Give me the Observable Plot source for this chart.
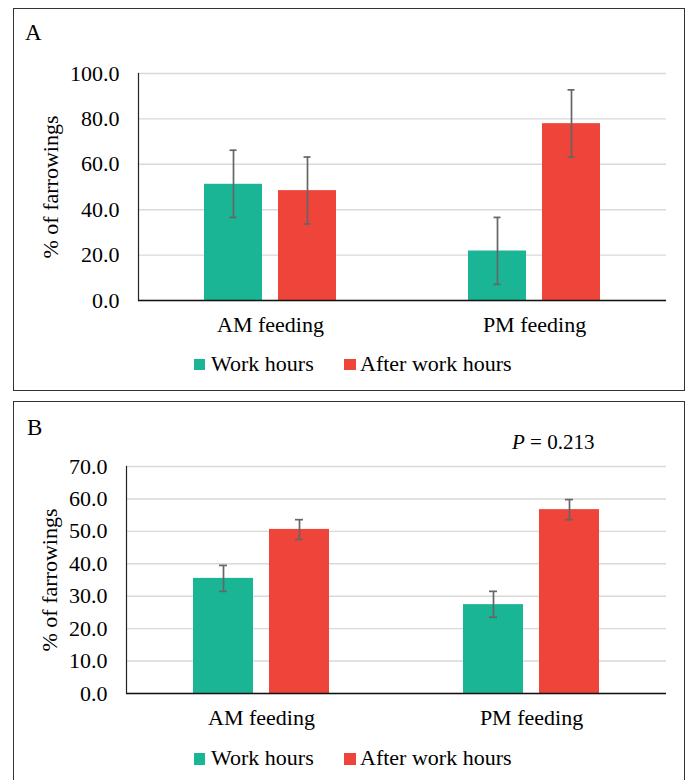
<!DOCTYPE html>
<html>
<head>
<meta charset="utf-8">
<script src="https://cdn.jsdelivr.net/npm/d3@7"></script>
<script src="https://cdn.jsdelivr.net/npm/@observablehq/plot@0.6"></script>
<style>
  html, body { margin: 0; padding: 0; background: #fff; }
  #page { position: relative; width: 686px; height: 780px; overflow: hidden; font-family: "Liberation Serif", "Times New Roman", serif; color: #000; }
  .box { position: absolute; box-sizing: border-box; border: 1.6px solid #333; }
  .lbl { position: absolute; line-height: 1; white-space: nowrap; }
  .sw { position: absolute; width: 11.5px; height: 11.5px; }
  svg.plot-svg { position: absolute; left: 0; }
</style>
</head>
<body>
<div id="page">
  <div class="box" style="left:13px; top:8px; width:672px; height:383px;"></div>
  <div class="box" style="left:13px; top:401px; width:672px; height:420px;"></div>
  <div class="lbl" style="left:25px; top:21px; font-size:23px;">A</div>
  <div class="lbl" style="left:27px; top:416px; font-size:23px;">B</div>
  <div class="lbl" style="left:512px; top:432px; font-size:21px;"><i>P</i> = 0.213</div>
</div>
<script>
// ---- data ----
const categories = ["AM feeding", "PM feeding"];
const series = ["Work hours", "After work hours"];
const colors = ["#1ab594", "#ee4439"];

// Panel A
const aWork = [51.2, 21.8];
const aWorkLow = [36.6, 7.1];
const aWorkHigh = [66.2, 36.6];
const aAfter = [48.4, 77.9];
const aAfterLow = [33.7, 63.2];
const aAfterHigh = [63.2, 92.8];
const yTicksA = [0, 20, 40, 60, 80, 100];

// Panel B
const bWork = [35.5, 27.4];
const bWorkLow = [31.5, 23.5];
const bWorkHigh = [39.5, 31.5];
const bAfter = [50.6, 56.7];
const bAfterLow = [47.5, 53.6];
const bAfterHigh = [53.6, 59.8];
const yTicksB = [0, 10, 20, 30, 40, 50, 60, 70];

const yTitle = "% of farrowings";

function rowsFrom(work, workLow, workHigh, after, afterLow, afterHigh) {
  const rows = [];
  categories.forEach((c, i) => {
    rows.push({category: c, series: series[0], value: work[i], low: workLow[i], high: workHigh[i]});
    rows.push({category: c, series: series[1], value: after[i], low: afterLow[i], high: afterHigh[i]});
  });
  return rows;
}

const FONT = "'Liberation Serif', 'Times New Roman', serif";

function chart({rows, yMax, yTicks, marginLeft, marginTop, height, padInner, padOuter, labelOffset, capInset}) {
  const err = {fx: "category", x: "series", stroke: "#666", strokeWidth: 1.7};
  return Plot.plot({
    width: 686,
    height,
    marginLeft,
    marginRight: 20,
    marginTop,
    marginBottom: 40,
    style: {fontFamily: FONT, fontSize: "22px", color: "#000", background: "transparent", overflow: "visible"},
    fx: {domain: categories, padding: 0, label: null},
    x: {domain: series, paddingInner: padInner, paddingOuter: padOuter, axis: null},
    y: {domain: [0, yMax], axis: null},
    color: {domain: series, range: colors},
    marks: [
      Plot.gridY(yTicks, {stroke: "#d9d9d9", strokeOpacity: 1, strokeWidth: 1.4}),
      Plot.barY(rows, {fx: "category", x: "series", y: "value", fill: "series"}),
      Plot.ruleX(rows, {...err, y1: "low", y2: "high"}),
      Plot.tickY(rows, {...err, y: "low", insetLeft: capInset, insetRight: capInset}),
      Plot.tickY(rows, {...err, y: "high", insetLeft: capInset, insetRight: capInset}),
      Plot.ruleY([0], {stroke: "#111", strokeWidth: 1.6}),
      Plot.frame({anchor: "left", facetAnchor: "left", stroke: "#222", strokeWidth: 1.2}),
      Plot.axisY(yTicks, {
        anchor: "left", tickSize: 0, tickPadding: 19, fontSize: 22,
        tickFormat: d3.format(".1f"),
        label: yTitle, labelAnchor: "center", labelOffset, labelArrow: "none"
      }),
      Plot.axisFx({anchor: "bottom", tickSize: 0, tickPadding: 16, fontSize: 22, label: null})
    ]
  });
}

const page = document.getElementById("page");

const svgA = chart({
  rows: rowsFrom(aWork, aWorkLow, aWorkHigh, aAfter, aAfterLow, aAfterHigh),
  yMax: 100, yTicks: yTicksA,
  marginLeft: 137, marginTop: 73, height: 340,
  padInner: 16 / 75, padOuter: 65.25 / 75,
  labelOffset: 96, capInset: 25.5
});
svgA.classList.add("plot-svg");
svgA.style.top = "0px";
page.appendChild(svgA);

const svgB = chart({
  rows: rowsFrom(bWork, bWorkLow, bWorkHigh, bAfter, bAfterLow, bAfterHigh),
  yMax: 70, yTicks: yTicksB,
  marginLeft: 126, marginTop: 71, height: 338,
  padInner: 16 / 76, padOuter: 67 / 76,
  labelOffset: 85, capInset: 26
});
svgB.classList.add("plot-svg");
svgB.style.top = "395px";
page.appendChild(svgB);

// legends
function legend(topText, topSwatch) {
  const swX = [193.6, 344];
  const txX = [211, 360];
  series.forEach((s, i) => {
    const sw = document.createElement("div");
    sw.className = "sw";
    sw.style.left = swX[i] + "px";
    sw.style.top = topSwatch + "px";
    sw.style.background = colors[i];
    page.appendChild(sw);
    const t = document.createElement("div");
    t.className = "lbl";
    t.style.left = txX[i] + "px";
    t.style.top = topText + "px";
    t.style.fontSize = "22px";
    t.textContent = s;
    page.appendChild(t);
  });
}
legend(352.6, 358.8);
legend(746.6, 753);
</script>
</body>
</html>
